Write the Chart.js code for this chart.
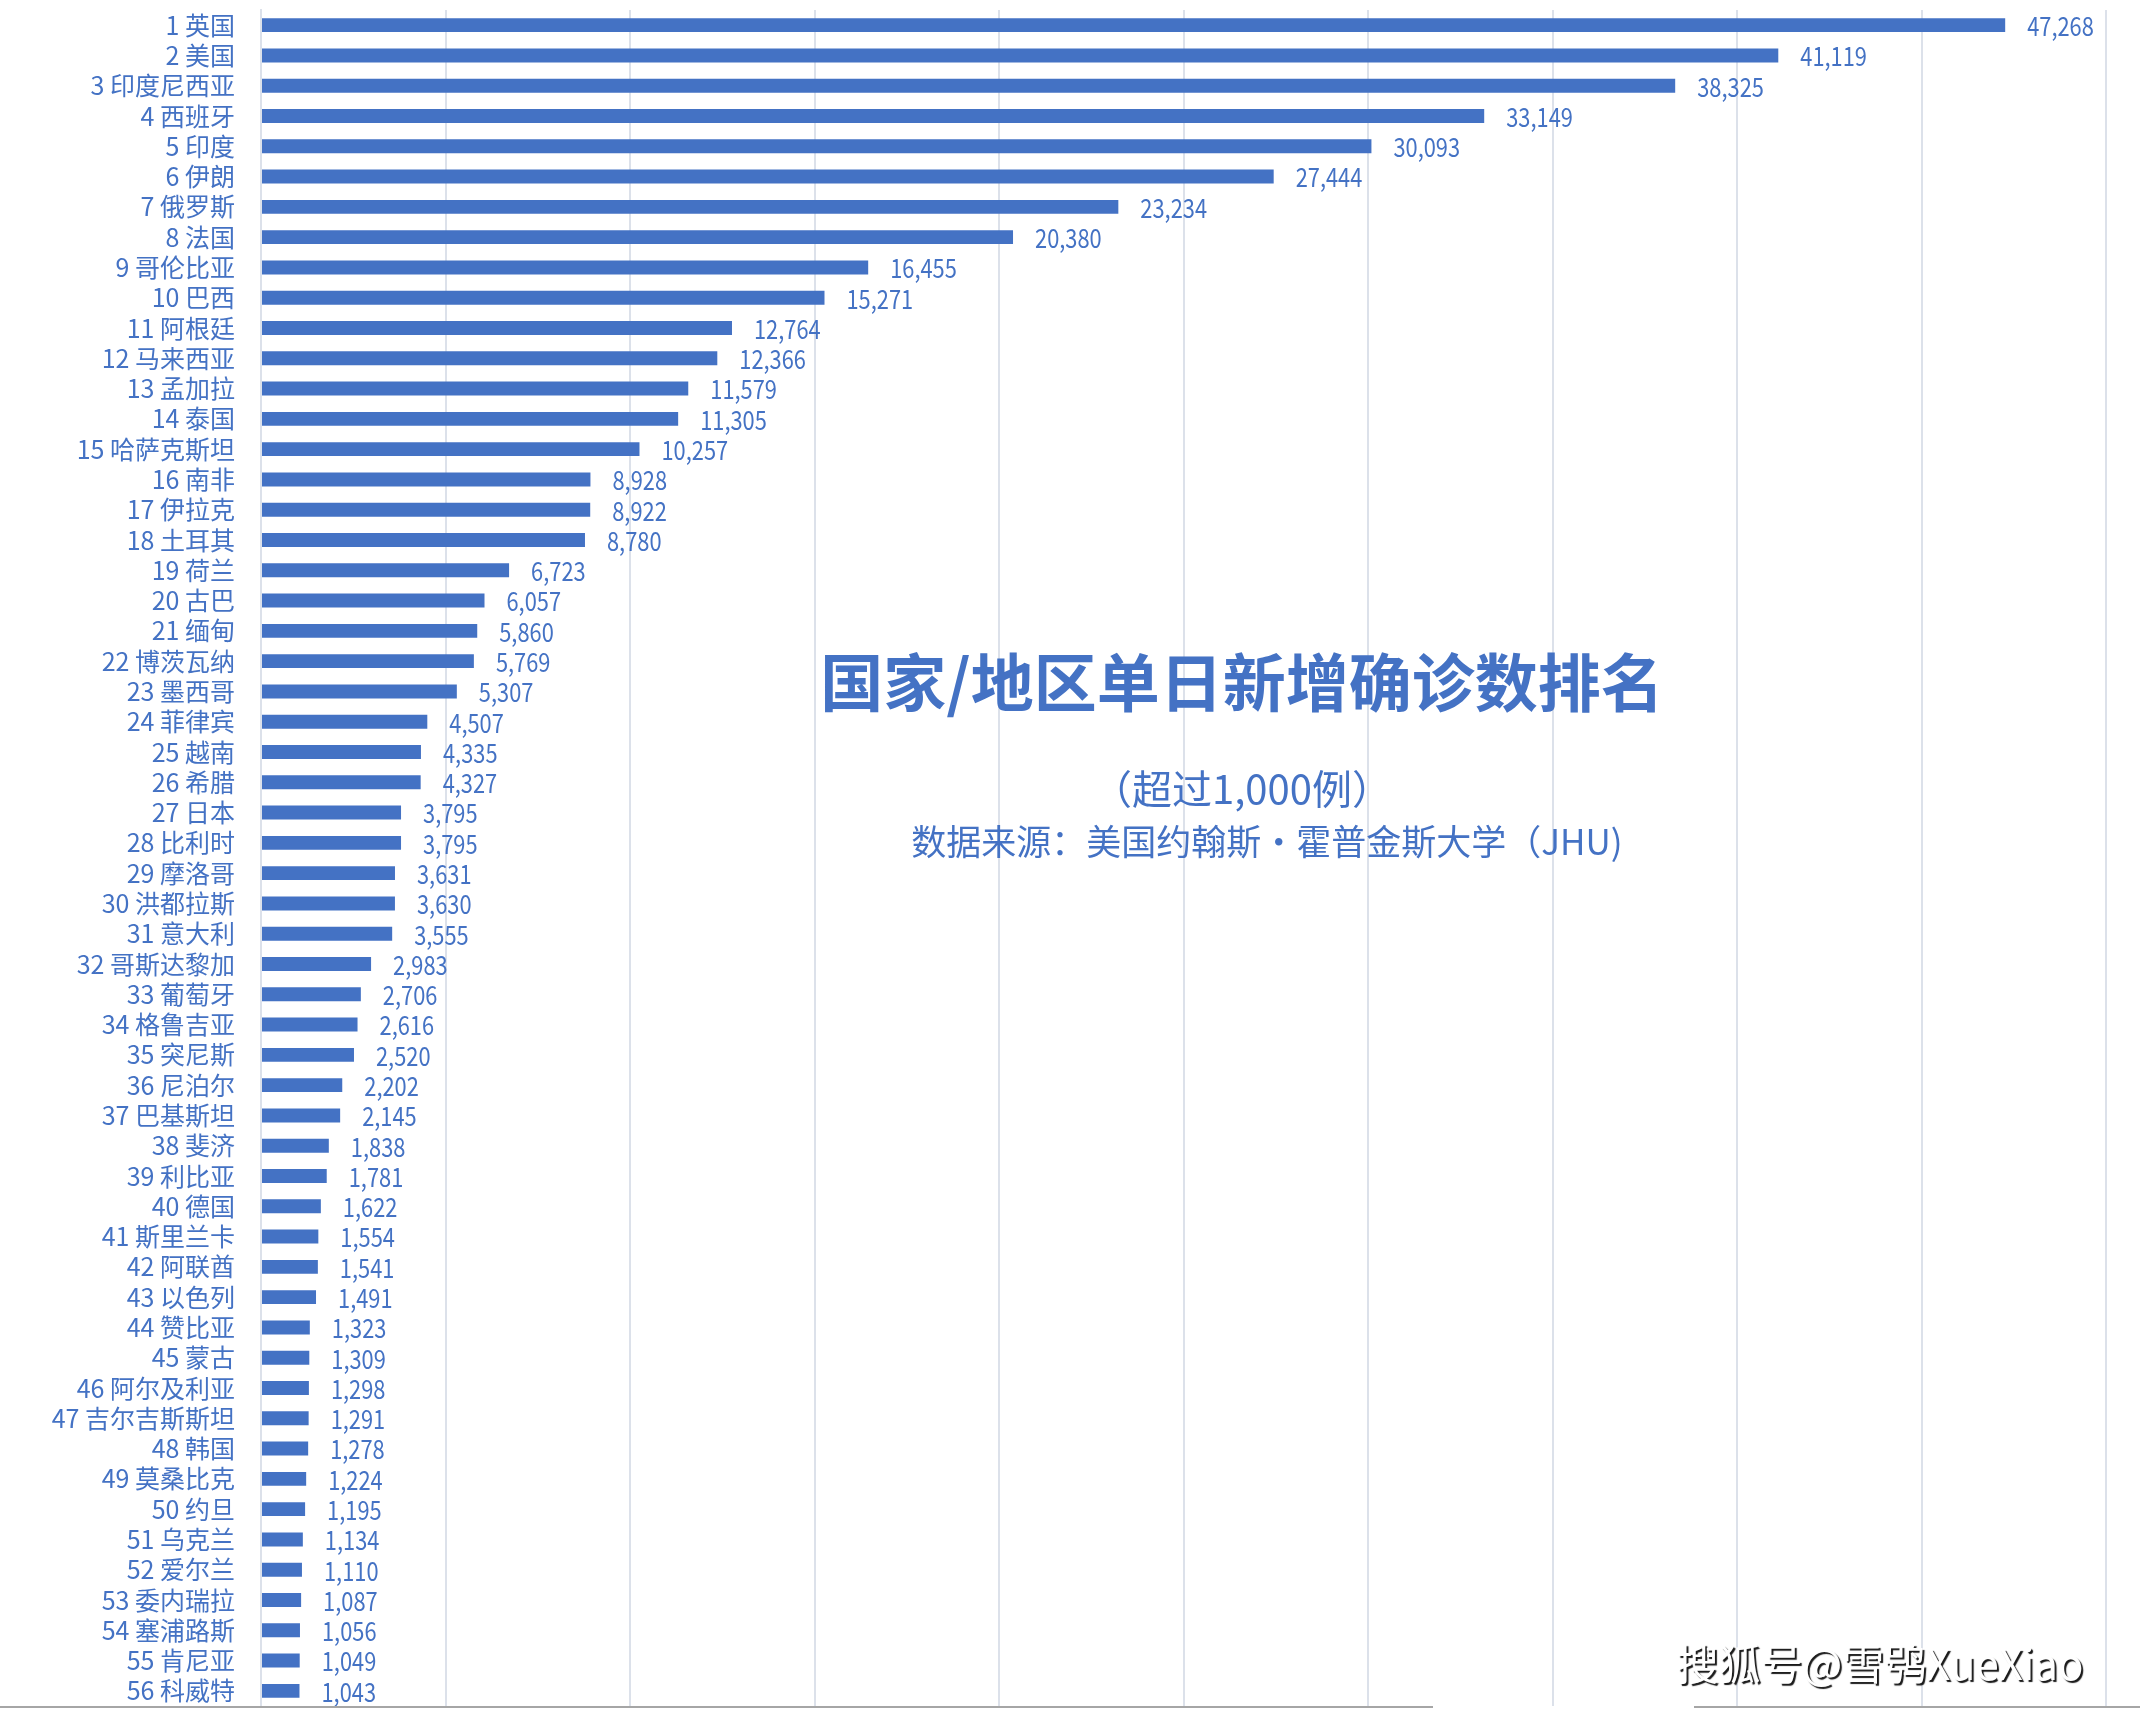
<!DOCTYPE html>
<html>
<head>
<meta charset="utf-8">
<script src="https://cdn.jsdelivr.net/npm/chart.js@4.4.1/dist/chart.umd.min.js"></script>
<style>
  html, body { margin: 0; padding: 0; background: #fff; }
  #wrap { position: relative; width: 2140px; height: 1710px; }
</style>
</head>
<body>
<div id="wrap"><canvas id="c" width="2140" height="1710"></canvas></div>
<script>
/* 国家/地区单日新增确诊数排名 */

const countries = [
  "英国", "美国", "印度尼西亚", "西班牙", "印度", "伊朗", "俄罗斯", "法国",
  "哥伦比亚", "巴西", "阿根廷", "马来西亚", "孟加拉", "泰国", "哈萨克斯坦", "南非",
  "伊拉克", "土耳其", "荷兰", "古巴", "缅甸", "博茨瓦纳", "墨西哥", "菲律宾",
  "越南", "希腊", "日本", "比利时", "摩洛哥", "洪都拉斯", "意大利", "哥斯达黎加",
  "葡萄牙", "格鲁吉亚", "突尼斯", "尼泊尔", "巴基斯坦", "斐济", "利比亚", "德国",
  "斯里兰卡", "阿联酋", "以色列", "赞比亚", "蒙古", "阿尔及利亚", "吉尔吉斯斯坦", "韩国",
  "莫桑比克", "约旦", "乌克兰", "爱尔兰", "委内瑞拉", "塞浦路斯", "肯尼亚", "科威特"
];
const newCases = [
  47268, 41119, 38325, 33149, 30093, 27444, 23234, 20380,
  16455, 15271, 12764, 12366, 11579, 11305, 10257, 8928,
  8922, 8780, 6723, 6057, 5860, 5769, 5307, 4507,
  4335, 4327, 3795, 3795, 3631, 3630, 3555, 2983,
  2706, 2616, 2520, 2202, 2145, 1838, 1781, 1622,
  1554, 1541, 1491, 1323, 1309, 1298, 1291, 1278,
  1224, 1195, 1134, 1110, 1087, 1056, 1049, 1043
];
const xMax = 50000;
const xStep = 5000;

const titleText = "国家/地区单日新增确诊数排名";
const subText = "（超过1,000例）";
const sourceText = "数据来源：美国约翰斯·霍普金斯大学（JHU)";
const markText = "搜狐号@雪鸮XueXiao";

const BLUE = "#4472C4";
const GRID = "#DCE1EA";
const FONT = "'Noto Sans CJK SC', sans-serif";

const labels = countries.map((n, i) => `${i + 1} ${n}`);
const fmt = n => n.toLocaleString("en-US");

// 数值标签 + 标题文字 + 底部灰线
const overlay = {
  id: "overlay",
  afterDatasetsDraw(chart) {
    const ctx = chart.ctx;
    const meta = chart.getDatasetMeta(0);
    ctx.fillStyle = BLUE;
    ctx.font = "26px " + FONT;
    ctx.textAlign = "left";
    ctx.textBaseline = "middle";
    meta.data.forEach((bar, i) => {
      ctx.save();
      ctx.translate(bar.x + 22, bar.y + 1);
      ctx.scale(0.84, 1); // 原图数字偏窄
      ctx.fillText(fmt(newCases[i]), 0, 0);
      ctx.restore();
    });
  },
  afterDraw(chart) {
    const ctx = chart.ctx;
    ctx.save();
    ctx.fillStyle = BLUE;
    ctx.textAlign = "center";
    ctx.textBaseline = "middle";
    ctx.font = "bold 63px " + FONT;
    ctx.fillText(titleText, 1242, 682);
    ctx.font = "40px " + FONT;
    ctx.fillText(subText, 1242, 789);
    ctx.font = "35px " + FONT;
    ctx.fillText(sourceText, 1267, 842);

    // 底部灰线
    ctx.strokeStyle = "#A6A6A6";
    ctx.lineWidth = 2;
    ctx.beginPath();
    ctx.moveTo(0, 1707); ctx.lineTo(1433, 1707);
    ctx.moveTo(1694, 1707); ctx.lineTo(2140, 1707);
    ctx.stroke();

    // 水印
    ctx.font = "42px " + FONT;
    ctx.shadowColor = "rgba(0,0,0,0.9)";
    ctx.shadowOffsetX = 2;
    ctx.shadowOffsetY = 2;
    ctx.shadowBlur = 1;
    ctx.fillStyle = "#ffffff";
    ctx.fillText(markText, 1880, 1664);
    ctx.restore();
  }
};

new Chart(document.getElementById("c"), {
  type: "bar",
  data: {
    labels,
    datasets: [{
      data: newCases,
      backgroundColor: BLUE,
      barPercentage: 0.46,
      categoryPercentage: 1
    }]
  },
  options: {
    indexAxis: "y",
    responsive: false,
    animation: false,
    devicePixelRatio: 1,
    layout: { padding: { left: 0, right: 34, top: 10, bottom: 4 } },
    plugins: { legend: { display: false }, tooltip: { enabled: false } },
    scales: {
      x: {
        min: 0, max: xMax,
        ticks: { display: false, stepSize: xStep },
        grid: { color: GRID, lineWidth: 2, drawTicks: false },
        border: { display: false },
        afterFit: s => { s.height = 0; s.paddingLeft = 0; s.paddingRight = 0; }
      },
      y: {
        ticks: { color: BLUE, font: { family: FONT, size: 25 }, padding: 26, autoSkip: false },
        grid: { display: false, drawTicks: false },
        border: { display: true, color: GRID, width: 2 },
        afterFit: s => { s.width = 261; s.paddingTop = 0; s.paddingBottom = 0; }
      }
    }
  },
  plugins: [overlay]
});
</script>
</body>
</html>
